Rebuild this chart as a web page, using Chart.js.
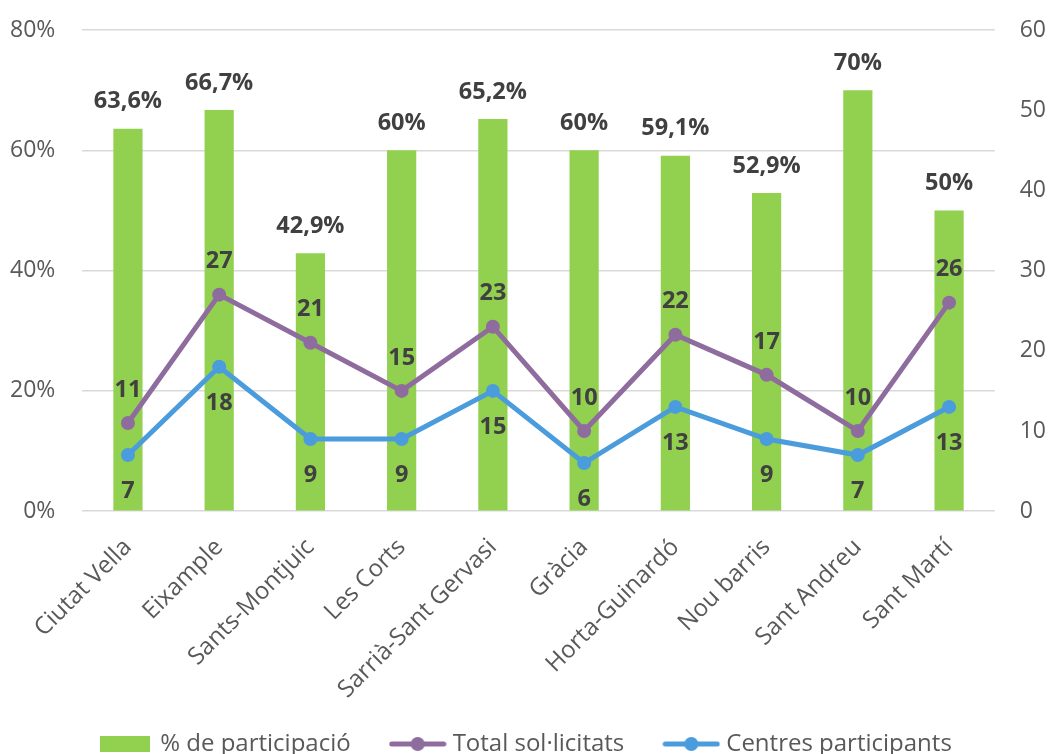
<!DOCTYPE html>
<html>
<head>
<meta charset="utf-8">
<script src="https://cdn.jsdelivr.net/npm/chart.js@4"></script>
<style>
html,body{margin:0;padding:0;background:#fff;}
#wrap{width:1051px;height:754px;}
</style>
</head>
<body>
<div id="wrap"><canvas id="districtes"></canvas></div>
<script>
// Districtes
const districtes = ["Ciutat Vella","Eixample","Sants-Montjuic","Les Corts","Sarrià-Sant Gervasi","Gràcia","Horta-Guinardó","Nou barris","Sant Andreu","Sant Martí"];

// % de participació
const participacio = [63.6, 66.7, 42.9, 60, 65.2, 60, 59.1, 52.9, 70, 50];

// Total sol·licitats
const solicitats = [11, 27, 21, 15, 23, 10, 22, 17, 10, 26];

// Centres participants
const centres = [7, 18, 9, 9, 15, 6, 13, 9, 7, 13];

const VERD = "#92d050", LILA = "#8f6c9e", BLAU = "#4a9cdc";
const FONT = "'Open Sans', sans-serif";
const RETALL_X = 30;   // alçada que es treu a l'eix x (les etiquetes hi sobresurten)

// petites icones per a la llegenda
function iconaCaixa(color){
  const c = document.createElement("canvas");
  c.width = 50; c.height = 16;
  const x = c.getContext("2d");
  x.fillStyle = color; x.fillRect(0,0,50,16);
  return c;
}
function iconaLinia(color){
  const c = document.createElement("canvas");
  c.width = 58; c.height = 16;
  const x = c.getContext("2d");
  x.strokeStyle = color; x.lineWidth = 5; x.lineCap = "round";
  x.beginPath(); x.moveTo(3,8); x.lineTo(55,8); x.stroke();
  x.fillStyle = color; x.beginPath(); x.arc(29,8,7,0,Math.PI*2); x.fill();
  return c;
}

function fmt(v){ return String(v).replace(".", ","); }

// sense marge extra per a les etiquetes dels extrems
function senseMarge(scale){
  scale.paddingLeft = 0; scale.paddingRight = 0;
  scale.paddingTop = 0; scale.paddingBottom = 0;
}

// deixa dibuixar les etiquetes de l'eix x per sota de la seva caixa
const margeEixX = {
  id: "margeEixX",
  afterLayout(chart){ chart.scales.x.bottom += RETALL_X; }
};

// etiquetes de valor sobre barres i punts
const etiquetes = {
  id: "etiquetes",
  afterDatasetsDraw(chart){
    const ctx = chart.ctx;
    ctx.save();
    ctx.font = "bold 23.5px " + FONT;
    ctx.fillStyle = "#404040";
    ctx.textAlign = "center";
    ctx.textBaseline = "middle";
    chart.data.datasets.forEach((ds, i) => {
      const meta = chart.getDatasetMeta(i);
      meta.data.forEach((el, j) => {
        const v = ds.data[j];
        if (ds.type === "bar") ctx.fillText(fmt(v) + "%", el.x, el.y - 27);
        else if (ds.etiqueta === "dalt") ctx.fillText(v, el.x, el.y - 33);
        else ctx.fillText(v, el.x, el.y + 36);
      });
    });
    ctx.restore();
  }
};

const grafic = new Chart(document.getElementById("districtes"), {
  type: "bar",
  data: {
    labels: districtes,
    datasets: [
      {
        type: "bar", label: "% de participació", data: participacio, yAxisID: "y",
        backgroundColor: VERD, barPercentage: 0.32, categoryPercentage: 1,
        order: 3, legendIcon: iconaCaixa(VERD)
      },
      {
        type: "line", label: "Total sol·licitats", data: solicitats, yAxisID: "y1",
        borderColor: LILA, backgroundColor: LILA, borderWidth: 5,
        pointRadius: 7, pointHoverRadius: 7, pointBackgroundColor: LILA, pointBorderWidth: 0,
        tension: 0, order: 1, etiqueta: "dalt", legendIcon: iconaLinia(LILA)
      },
      {
        type: "line", label: "Centres participants", data: centres, yAxisID: "y1",
        borderColor: BLAU, backgroundColor: BLAU, borderWidth: 5,
        pointRadius: 7, pointHoverRadius: 7, pointBackgroundColor: BLAU, pointBorderWidth: 0,
        tension: 0, order: 2, etiqueta: "baix", legendIcon: iconaLinia(BLAU)
      }
    ]
  },
  options: {
    responsive: true,
    maintainAspectRatio: false,
    animation: false,
    layout: { padding: { left: -17, right: -20, top: 30, bottom: -12 } },
    plugins: {
      tooltip: { enabled: false },
      legend: {
        position: "bottom",
        labels: {
          usePointStyle: true,
          pointStyleWidth: 46,
          boxHeight: 16,
          padding: 44,
          color: "#595959",
          font: { family: FONT, size: 24 },
          generateLabels(chart){
            return chart.data.datasets.map((ds, i) => ({
              text: ds.label, datasetIndex: i, pointStyle: ds.legendIcon,
              fillStyle: "transparent", strokeStyle: "transparent", lineWidth: 0,
              fontColor: "#595959", hidden: false
            }));
          }
        }
      }
    },
    scales: {
      x: {
        grid: { display: false },
        border: { display: false },
        afterFit(scale){ senseMarge(scale); scale.height -= RETALL_X; },
        ticks: {
          color: "#595959", font: { family: FONT, size: 24 },
          maxRotation: 45, minRotation: 45, padding: 14
        }
      },
      y: {
        position: "left", min: 0, max: 80,
        border: { display: false },
        afterFit: senseMarge,
        grid: { color: "#d9d9d9", lineWidth: 1.5, drawTicks: false },
        ticks: { stepSize: 20, padding: 27, color: "#595959", font: { family: FONT, size: 23 },
          callback: v => v + "%" }
      },
      y1: {
        position: "right", min: 0, max: 60,
        border: { display: false },
        afterFit: senseMarge,
        grid: { display: false, drawTicks: false },
        ticks: { stepSize: 10, padding: 25, color: "#595959", font: { family: FONT, size: 23 } }
      }
    }
  },
  plugins: [margeEixX, etiquetes]
});
</script>
</body>
</html>
